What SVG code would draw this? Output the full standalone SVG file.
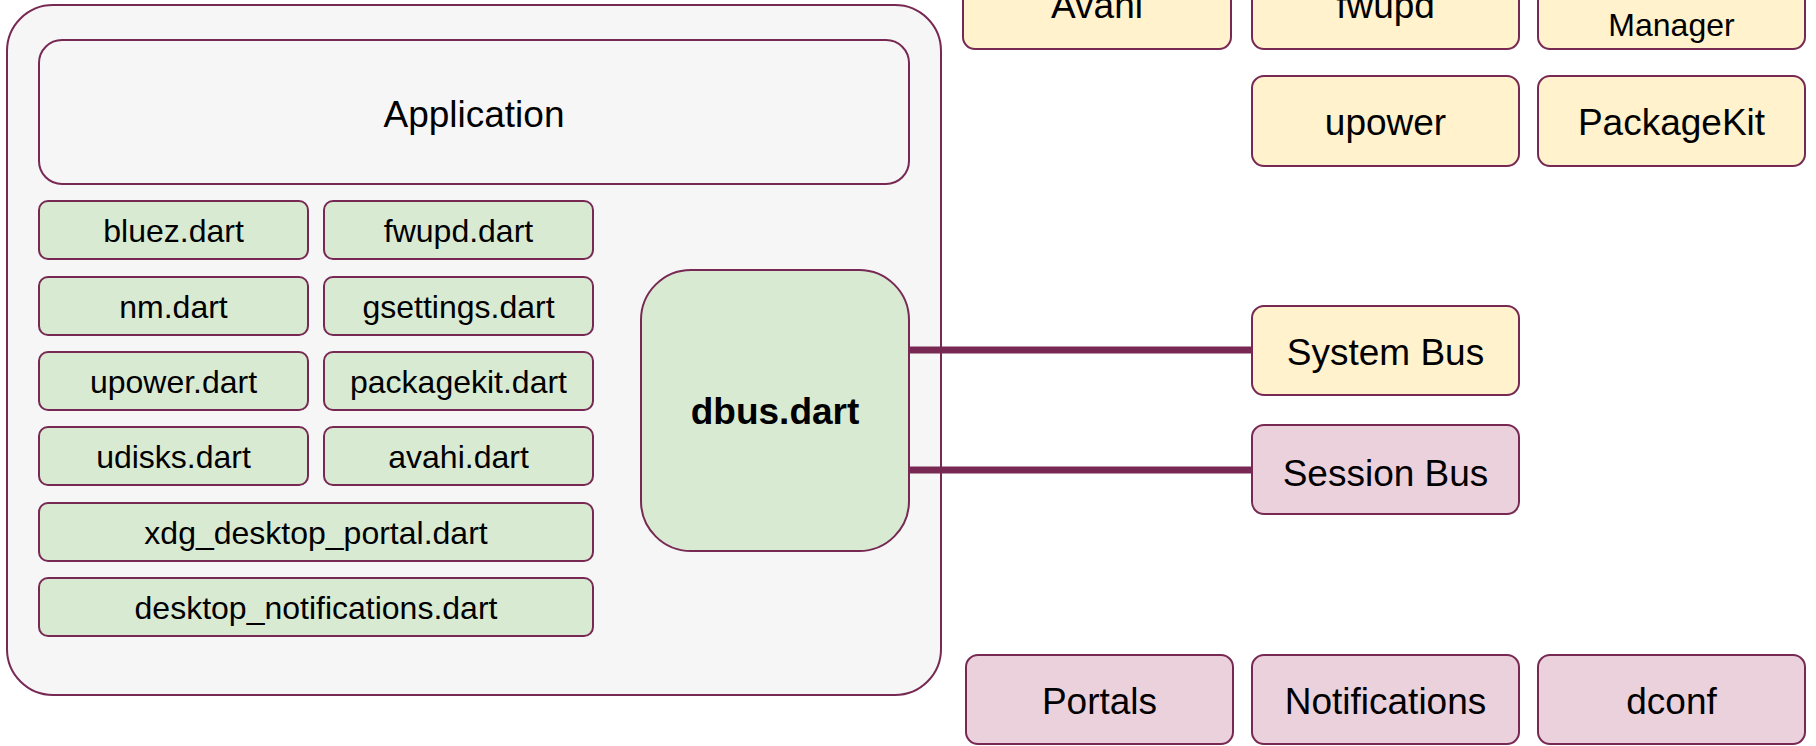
<svg xmlns="http://www.w3.org/2000/svg" width="1816" height="746" viewBox="0 0 1816 746">
<style>
.b{stroke:#772953;stroke-width:2}
.g{fill:#d9ead3}.y{fill:#fff2cc}.p{fill:#ead1dc}.w{fill:#f6f6f6}
text{font-family:"Liberation Sans",Arial,sans-serif;fill:#000;text-anchor:middle}
.s{font-size:32px}.L{font-size:37px}
.c{stroke:#772953;stroke-width:7;fill:none}
</style>
<rect width="1816" height="746" fill="#fff"/>
<g id="container"><rect class="b w" x="7" y="5" width="934" height="690" rx="46"/></g>
<g id="application"><rect class="b w" x="39" y="40" width="870" height="144" rx="23"/><text class="L" x="474" y="127">Application</text></g>
<g id="bluez"><rect class="b g" x="39" y="201" width="269" height="58" rx="9"/><text class="s" x="173.5" y="242">bluez.dart</text></g>
<g id="fwupd-dart"><rect class="b g" x="324" y="201" width="269" height="58" rx="9"/><text class="s" x="458.5" y="242">fwupd.dart</text></g>
<g id="nm"><rect class="b g" x="39" y="277" width="269" height="58" rx="9"/><text class="s" x="173.5" y="318">nm.dart</text></g>
<g id="gsettings"><rect class="b g" x="324" y="277" width="269" height="58" rx="9"/><text class="s" x="458.5" y="318">gsettings.dart</text></g>
<g id="upower-dart"><rect class="b g" x="39" y="352" width="269" height="58" rx="9"/><text class="s" x="173.5" y="393">upower.dart</text></g>
<g id="packagekit-dart"><rect class="b g" x="324" y="352" width="269" height="58" rx="9"/><text class="s" x="458.5" y="393">packagekit.dart</text></g>
<g id="udisks"><rect class="b g" x="39" y="427" width="269" height="58" rx="9"/><text class="s" x="173.5" y="468">udisks.dart</text></g>
<g id="avahi-dart"><rect class="b g" x="324" y="427" width="269" height="58" rx="9"/><text class="s" x="458.5" y="468">avahi.dart</text></g>
<g id="xdg"><rect class="b g" x="39" y="503" width="554" height="58" rx="9"/><text class="s" x="316" y="544">xdg_desktop_portal.dart</text></g>
<g id="notif-dart"><rect class="b g" x="39" y="578" width="554" height="58" rx="9"/><text class="s" x="316" y="619">desktop_notifications.dart</text></g>
<g id="dbus"><rect class="b g" x="641" y="270" width="268" height="281" rx="50"/><text class="L" x="775" y="424" font-weight="bold">dbus.dart</text></g>
<g id="connectors"><line class="c" x1="909" y1="350" x2="1252" y2="350"/><line class="c" x1="909" y1="470" x2="1252" y2="470"/></g>
<g id="avahi"><rect class="b y" x="963" y="-40" width="268" height="89" rx="12"/><text class="L" x="1097" y="18">Avahi</text></g>
<g id="fwupd"><rect class="b y" x="1252" y="-40" width="267" height="89" rx="12"/><text class="L" x="1385.5" y="18">fwupd</text></g>
<g id="networkmanager"><rect class="b y" x="1538" y="-40" width="267" height="89" rx="12"/><text class="s" x="1671.5" y="36">Manager</text></g>
<g id="upower"><rect class="b y" x="1252" y="76" width="267" height="90" rx="12"/><text class="L" x="1385.5" y="135">upower</text></g>
<g id="packagekit"><rect class="b y" x="1538" y="76" width="267" height="90" rx="12"/><text class="L" x="1671.5" y="135">PackageKit</text></g>
<g id="systembus"><rect class="b y" x="1252" y="306" width="267" height="89" rx="12"/><text class="L" x="1385.5" y="365">System Bus</text></g>
<g id="sessionbus"><rect class="b p" x="1252" y="425" width="267" height="89" rx="12"/><text class="L" x="1385.5" y="486">Session Bus</text></g>
<g id="portals"><rect class="b p" x="966" y="655" width="267" height="89" rx="12"/><text class="L" x="1099.5" y="714">Portals</text></g>
<g id="notifications"><rect class="b p" x="1252" y="655" width="267" height="89" rx="12"/><text class="L" x="1385.5" y="714">Notifications</text></g>
<g id="dconf"><rect class="b p" x="1538" y="655" width="267" height="89" rx="12"/><text class="L" x="1671.5" y="714">dconf</text></g>
</svg>
